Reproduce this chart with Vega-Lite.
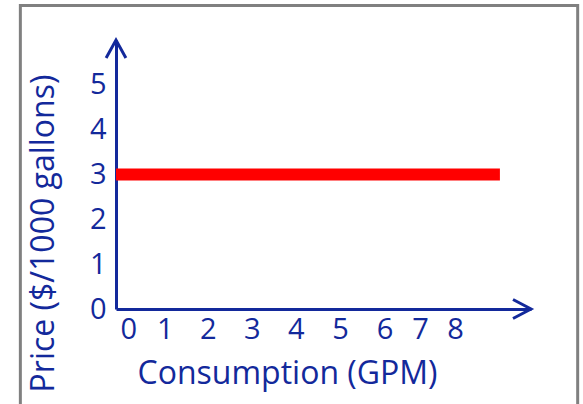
{
  "$schema": "https://vega.github.io/schema/vega-lite/v6.json",
  "width": 415,
  "height": 269,
  "autosize": {"type": "none"},
  "padding": {"left": 116, "top": 40, "right": 52, "bottom": 95},
  "background": "white",
  "config": {"view": {"stroke": null}, "font": "Open Sans"},
  "layer": [
    {
      "data": {"values": [{}]},
      "mark": {"type": "rect", "fill": "transparent", "stroke": "#808080", "strokeWidth": 3, "clip": false},
      "encoding": {
        "x": {"datum": -2.135, "type": "quantitative"},
        "x2": {"datum": 10.306},
        "y": {"datum": 6.77, "type": "quantitative"},
        "y2": {"datum": -3}
      }
    },
    {
      "data": {"values": [{"consumption": 0, "price": 3}, {"consumption": 8.57, "price": 3}]},
      "mark": {"type": "line", "color": "#ff0000", "strokeWidth": 12, "strokeCap": "butt"},
      "encoding": {
        "x": {
          "field": "consumption",
          "type": "quantitative",
          "scale": {"domain": [0, 9.264], "nice": false, "zero": false},
          "axis": {
            "title": "Consumption (GPM)",
            "values": [0.274, 1.089, 2.048, 3.029, 4.011, 5.003, 5.996, 6.788, 7.569],
            "labelExpr": "format(round(datum.value), 'd')",
            "grid": false,
            "ticks": false,
            "tickSize": 0,
            "domainColor": "#13299b",
            "domainWidth": 3,
            "labelColor": "#13299b",
            "labelFont": "Open Sans",
            "labelFontSize": 29,
            "labelFontWeight": "normal",
            "labelPadding": 6,
            "labelFlush": false,
            "labelOverlap": false,
            "titleColor": "#13299b",
            "titleFont": "Open Sans",
            "titleFontSize": 32,
            "titleFontWeight": "normal",
            "titleAlign": "center",
            "titleBaseline": "alphabetic",
            "titleX": 171,
            "titleY": 74
          }
        },
        "y": {
          "field": "price",
          "type": "quantitative",
          "scale": {"domain": [0, 6], "nice": false},
          "axis": {
            "title": "Price ($/1000 gallons)",
            "values": [0, 1, 2, 3, 4, 5],
            "grid": false,
            "ticks": false,
            "tickSize": 0,
            "domainColor": "#13299b",
            "domainWidth": 3,
            "labelColor": "#13299b",
            "labelFont": "Open Sans",
            "labelFontSize": 29,
            "labelFontWeight": "normal",
            "labelPadding": 10,
            "labelFlush": false,
            "labelOverlap": false,
            "titleColor": "#13299b",
            "titleFont": "Open Sans",
            "titleFontSize": 32,
            "titleFontWeight": "normal",
            "titleAlign": "center",
            "titleBaseline": "alphabetic",
            "titleAngle": -90,
            "titleX": -63,
            "titleY": 193
          }
        }
      }
    },
    {
      "data": {"values": [{}]},
      "mark": {"type": "point", "shape": "M-1,-0.53L0,0L-1,0.53", "size": 1296, "filled": false, "stroke": "#13299b", "strokeWidth": 3, "opacity": 1},
      "encoding": {
        "x": {"datum": 9.264, "type": "quantitative"},
        "y": {"datum": 0, "type": "quantitative"}
      }
    },
    {
      "data": {"values": [{}]},
      "mark": {"type": "point", "shape": "M-0.55,1L0,0L0.55,1", "size": 1296, "filled": false, "stroke": "#13299b", "strokeWidth": 3, "opacity": 1},
      "encoding": {
        "x": {"datum": 0, "type": "quantitative"},
        "y": {"datum": 6, "type": "quantitative"}
      }
    }
  ]
}
